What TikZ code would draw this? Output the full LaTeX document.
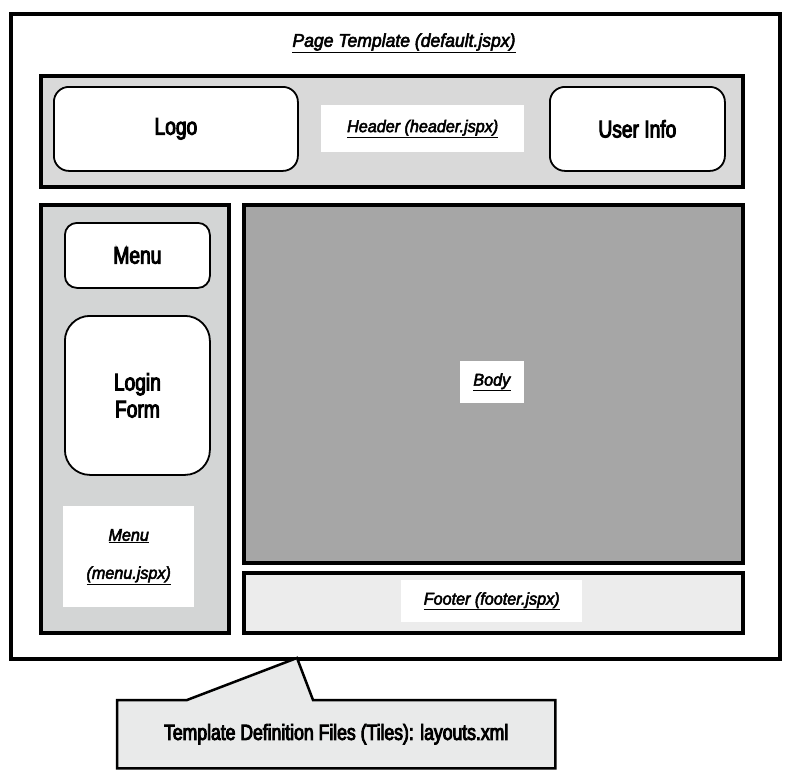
\documentclass[tikz,border=0pt]{standalone}
\usepackage{fontspec}
\setmainfont{Liberation Sans}[FakeStretch=0.8, FakeBold=4]
\newfontfamily\labfont{Liberation Sans}[FakeStretch=0.95, FakeBold=3]
\definecolor{headgray}{HTML}{D9D9D9}
\definecolor{menugray}{HTML}{D3D5D5}
\definecolor{bodygray}{HTML}{A6A6A6}
\definecolor{footgray}{HTML}{ECECEC}
\definecolor{tilegray}{HTML}{E9EAEA}
\newcommand{\ulab}[1]{\underline{\textit{#1}}}
\tikzset{
    band/.style={draw, line width=4pt, anchor=north west, inner sep=0pt},
    tile/.style={draw, line width=1.8pt, fill=white, anchor=north west, inner sep=0pt,
        rounded corners=15pt, font=\fontsize{24}{27}\selectfont, align=center},
    lab/.style={fill=white, anchor=north west, inner sep=0pt, font=\labfont\fontsize{17}{20}\selectfont, align=center}
}
\begin{document}
\begin{tikzpicture}[x=1pt, y=-1pt]
    \useasboundingbox (0,0) rectangle (785,782);
    \node[draw, line width=3.8pt, anchor=north west, minimum width=769pt, minimum height=645pt](page) at (9,12){};
    \node[font=\labfont\fontsize{18.5}{22}\selectfont](pagelab) at (404,43){\ulab{Page Template (default.jspx)}};

    % header
    \node[band, fill=headgray, minimum width=702pt, minimum height=111pt](header) at (39,74){};
    \node[tile, minimum width=244pt, minimum height=84pt](logo) at (53,86){Logo};
    \node[lab, minimum width=203pt, minimum height=47pt](headlab) at (321,105){\ulab{Header (header.jspx)}};
    \node[tile, minimum width=175pt, minimum height=84pt](user) at (549,86){User Info};

    % menu
    \node[band, fill=menugray, minimum width=188pt, minimum height=428pt](menuband) at (39,203){};
    \node[tile, rounded corners=12pt, minimum width=145pt, minimum height=65pt](menu) at (64,222){Menu};
    \node[tile, rounded corners=25pt, minimum width=145pt, minimum height=159pt](login) at (64,315){Login\\Form};
    \node[lab, minimum width=131pt, minimum height=101pt](menulab) at (63,506){\ulab{Menu}\\[18pt]\ulab{(menu.jspx)}};

    % body and footer
    \node[band, fill=bodygray, minimum width=499pt, minimum height=358pt](body) at (242,203){};
    \node[lab, minimum width=64pt, minimum height=42pt](bodylab) at (460,361){\ulab{Body}};
    \node[band, fill=footgray, minimum width=499pt, minimum height=60pt](footer) at (242,571){};
    \node[lab, minimum width=181pt, minimum height=42pt](footlab) at (401,580){\ulab{Footer (footer.jspx)}};

    % tiles definition callout
    \coordinate (tip) at (297,658);
    \node[anchor=north west, minimum width=438pt, minimum height=68pt, inner sep=0pt](tiles) at (117,700){};
    \draw[line width=2.5pt, fill=tilegray, line join=miter]
        (tiles.north west)--(187,700)--(tip)--(313,700)--(tiles.north east)
        --(tiles.south east)--(tiles.south west)--cycle;
    \node[font=\fontsize{22}{26}\selectfont](tilelab) at (tiles.center){Template Definition Files (Tiles): layouts.xml};
\end{tikzpicture}
\end{document}
